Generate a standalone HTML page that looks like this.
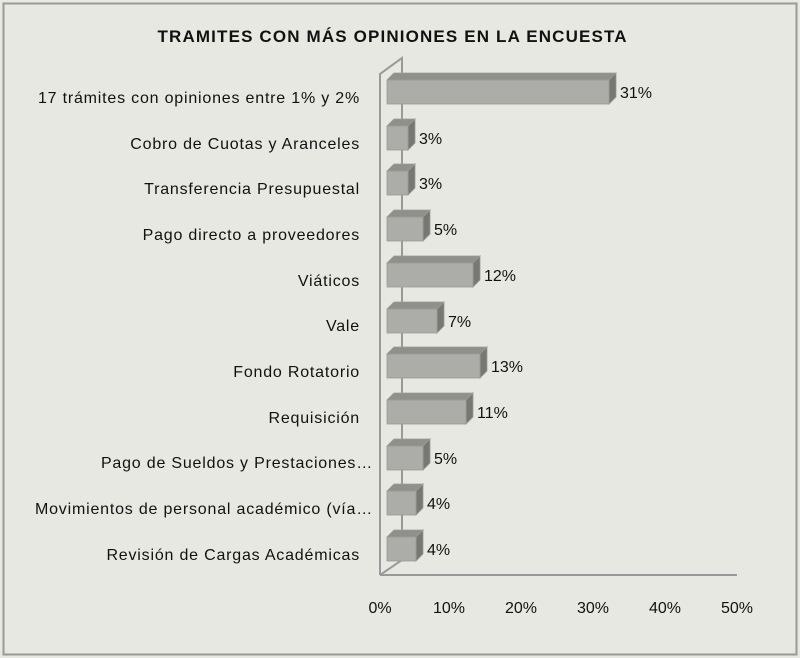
<!DOCTYPE html>
<html><head><meta charset="utf-8"><style>
html,body{margin:0;padding:0;background:#e8e8e2;}
svg{display:block;font-family:"Liberation Sans",sans-serif;}
</style></head><body>
<svg width="800" height="658" viewBox="0 0 800 658" xmlns="http://www.w3.org/2000/svg">
<rect x="0" y="0" width="800" height="658" fill="#e8e8e2"/>
<rect x="3.5" y="3.5" width="793" height="651" fill="none" stroke="#9a9a96" stroke-width="2"/>
<text x="392" y="42" text-anchor="middle" font-size="17" font-weight="bold" fill="#111" textLength="469" lengthAdjust="spacing">TRAMITES CON MÁS OPINIONES EN LA ENCUESTA</text>
<g stroke="#999" stroke-width="2" fill="none">
<polyline points="380,575 380,74 402,58 402,560"/>
<line x1="380" y1="575" x2="737" y2="575"/>
<line x1="380" y1="575" x2="402" y2="560"/>
</g>
<defs>
<g id="dummy"></g>
</defs>
<g stroke="#9a9a96" stroke-width="0.8">
<!-- row: c, x1 -->
<polygon points="387,80 394,73 616,73 609,80" fill="#8f8f8c"/><polygon points="609,80 616,73 616,97 609,104" fill="#777774"/><rect x="387" y="80" width="222" height="24" fill="#acaca8"/>
<polygon points="387,126 394,119 415,119 408,126" fill="#8f8f8c"/><polygon points="408,126 415,119 415,143 408,150" fill="#777774"/><rect x="387" y="126" width="21" height="24" fill="#acaca8"/>
<polygon points="387,171 394,164 415,164 408,171" fill="#8f8f8c"/><polygon points="408,171 415,164 415,188 408,195" fill="#777774"/><rect x="387" y="171" width="21" height="24" fill="#acaca8"/>
<polygon points="387,217 394,210 430,210 423,217" fill="#8f8f8c"/><polygon points="423,217 430,210 430,234 423,241" fill="#777774"/><rect x="387" y="217" width="36" height="24" fill="#acaca8"/>
<polygon points="387,263 394,256 480,256 473,263" fill="#8f8f8c"/><polygon points="473,263 480,256 480,280 473,287" fill="#777774"/><rect x="387" y="263" width="86" height="24" fill="#acaca8"/>
<polygon points="387,309 394,302 444,302 437,309" fill="#8f8f8c"/><polygon points="437,309 444,302 444,326 437,333" fill="#777774"/><rect x="387" y="309" width="50" height="24" fill="#acaca8"/>
<polygon points="387,354 394,347 487,347 480,354" fill="#8f8f8c"/><polygon points="480,354 487,347 487,371 480,378" fill="#777774"/><rect x="387" y="354" width="93" height="24" fill="#acaca8"/>
<polygon points="387,400 394,393 473,393 466,400" fill="#8f8f8c"/><polygon points="466,400 473,393 473,417 466,424" fill="#777774"/><rect x="387" y="400" width="79" height="24" fill="#acaca8"/>
<polygon points="387,446 394,439 430,439 423,446" fill="#8f8f8c"/><polygon points="423,446 430,439 430,463 423,470" fill="#777774"/><rect x="387" y="446" width="36" height="24" fill="#acaca8"/>
<polygon points="387,491 394,484 423,484 416,491" fill="#8f8f8c"/><polygon points="416,491 423,484 423,508 416,515" fill="#777774"/><rect x="387" y="491" width="29" height="24" fill="#acaca8"/>
<polygon points="387,537 394,530 423,530 416,537" fill="#8f8f8c"/><polygon points="416,537 423,530 423,554 416,561" fill="#777774"/><rect x="387" y="537" width="29" height="24" fill="#acaca8"/>
</g>
<g font-size="16" fill="#111">
<text x="620" y="98">31%</text>
<text x="419" y="144">3%</text>
<text x="419" y="189">3%</text>
<text x="434" y="235">5%</text>
<text x="484" y="281">12%</text>
<text x="448" y="327">7%</text>
<text x="491" y="372">13%</text>
<text x="477" y="418">11%</text>
<text x="434" y="464">5%</text>
<text x="427" y="509">4%</text>
<text x="427" y="555">4%</text>
</g>
<g font-size="16" fill="#111" text-anchor="end" letter-spacing="0.8">
<text x="360" y="103">17 trámites con opiniones entre 1% y 2%</text>
<text x="360" y="149">Cobro de Cuotas y Aranceles</text>
<text x="360" y="194">Transferencia Presupuestal</text>
<text x="360" y="240">Pago directo a proveedores</text>
<text x="360" y="286">Viáticos</text>
<text x="360" y="331">Vale</text>
<text x="360" y="377">Fondo Rotatorio</text>
<text x="360" y="423">Requisición</text>
<text x="373" y="468">Pago de Sueldos y Prestaciones…</text>
<text x="373" y="514">Movimientos de personal académico (vía…</text>
<text x="360" y="560">Revisión de Cargas Académicas</text>
</g>
<g font-size="16" fill="#111" text-anchor="middle">
<text x="380" y="613">0%</text><text x="449" y="613">10%</text><text x="521" y="613">20%</text>
<text x="593" y="613">30%</text><text x="665" y="613">40%</text><text x="737" y="613">50%</text>
</g>
</svg>
</body></html>
